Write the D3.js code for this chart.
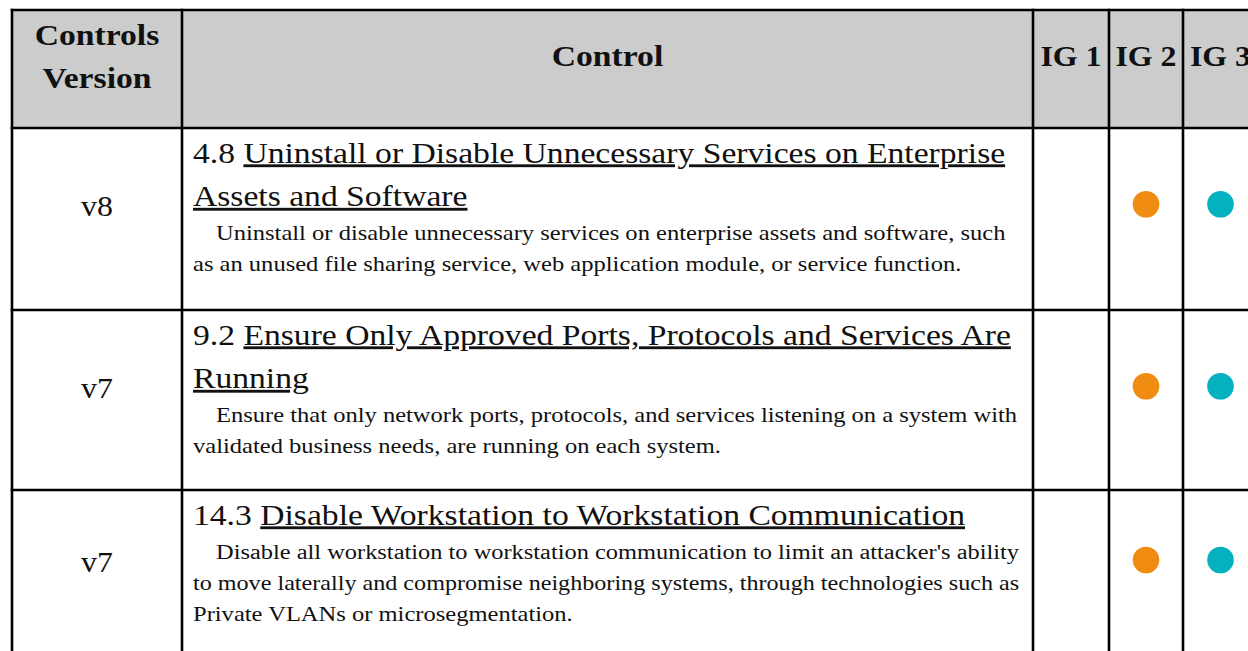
<!DOCTYPE html>
<html>
<head>
<meta charset="utf-8">
<script src="https://cdn.jsdelivr.net/npm/d3@7"></script>
<style>
  html, body { margin: 0; padding: 0; background: #ffffff; }
  svg { display: block; }
  text { font-family: "Liberation Serif", "Times New Roman", serif; fill: #111; }
</style>
</head>
<body>
<svg id="chart" width="1248" height="651"></svg>
<script>
// ---------- data ----------
const headers = ["Controls Version", "Control", "IG 1", "IG 2", "IG 3"];
const versions = ["v8", "v7", "v7"];
const controlIds = ["4.8", "9.2", "14.3"];
const titleLines = [
  ["Uninstall or Disable Unnecessary Services on Enterprise", "Assets and Software"],
  ["Ensure Only Approved Ports, Protocols and Services Are", "Running"],
  ["Disable Workstation to Workstation Communication"]
];
const descLines = [
  ["Uninstall or disable unnecessary services on enterprise assets and software, such",
   "as an unused file sharing service, web application module, or service function."],
  ["Ensure that only network ports, protocols, and services listening on a system with",
   "validated business needs, are running on each system."],
  ["Disable all workstation to workstation communication to limit an attacker's ability",
   "to move laterally and compromise neighboring systems, through technologies such as",
   "Private VLANs or microsegmentation."]
];
const ig1 = [false, false, false];
const ig2 = [true, true, true];
const ig3 = [true, true, true];
const igColors = ["#f18c12", "#f18c12", "#03b1bf"];

// ---------- layout ----------
const svg = d3.select("#chart");
const colEdges = [12, 182, 1033, 1109, 1183, 1258];
const rowTops = [10, 128, 310, 490, 680];
const K_HEAD = 1.16, K_IG = 1.1, K_LABEL = 1.1, K_TITLE = 1.18, K_DESC = 1.227;
const line = 2.6;

const colX = d3.scaleOrdinal().domain(d3.range(5)).range(colEdges.slice(0, 5));
const colW = i => colEdges[i + 1] - colEdges[i];
const colC = i => colX(i) + colW(i) / 2;
const rowY = d3.scaleOrdinal().domain(d3.range(4)).range(rowTops.slice(0, 4));

// header background
svg.append("rect")
  .attr("x", colEdges[0]).attr("y", rowTops[0])
  .attr("width", colEdges[5] - colEdges[0]).attr("height", rowTops[1] - rowTops[0])
  .attr("fill", "#cccccc");

function txt(g, x, y, k, anchor) {
  return g.append("text")
    .attr("transform", `translate(${x},${y}) scale(${k},1)`)
    .attr("text-anchor", anchor || "start");
}

// header texts
const hdr = svg.append("g");
const hdrLines = headers.map(h => h === "Controls Version" ? ["Controls", "Version"] : [h]);
hdrLines.forEach((ls, i) => {
  ls.forEach((s, j) => {
    const y = ls.length > 1 ? 45 + j * 43 : 66;
    txt(hdr, colC(i), y, i >= 2 ? K_IG : K_HEAD, "middle")
      .style("font-size", "29px").style("font-weight", "bold").text(s);
  });
});

// body rows
const maxRight = colEdges[2] - 14;
versions.forEach((v, r) => {
  const top = rowY(r + 1);
  const g = svg.append("g");
  const tx = colX(1) + 11;
  const t0 = top + 34.5;
  // title lines
  titleLines[r].forEach((s, j) => {
    const t = txt(g, tx, t0 + j * 43.5, K_TITLE).style("font-size", "28.5px");
    if (j === 0) t.append("tspan").text(controlIds[r] + " ");
    t.append("tspan").style("text-decoration", "underline").text(s);
  });
  const tEnd = t0 + (titleLines[r].length - 1) * 43.5;
  descLines[r].forEach((s, j) => {
    const x = tx + (j === 0 ? 23 : 0);
    const y = tEnd + 34 + j * 31;
    const t = txt(g, x, y, K_DESC).style("font-size", "20px").text(s);
    const w = t.node().getComputedTextLength();
    const k = Math.min(K_DESC, (maxRight - x) / w);
    t.attr("transform", `translate(${x},${y}) scale(${k},1)`);
  });
  const dEnd = tEnd + 34 + (descLines[r].length - 1) * 31;
  const mid = (t0 - 19 + dEnd) / 2 - 3;

  // version label
  txt(g, colC(0), mid + 12, K_LABEL, "middle").style("font-size", "29px").text(v);

  // IG markers
  [ig1, ig2, ig3].forEach((arr, c) => {
    if (arr[r]) {
      g.append("circle")
        .attr("cx", colC(c + 2)).attr("cy", mid)
        .attr("r", 13.3).attr("fill", igColors[c]);
    }
  });
});

// grid lines
const grid = svg.append("g").attr("stroke", "#000").attr("stroke-width", line);
rowTops.slice(0, 4).forEach(y => {
  grid.append("line").attr("x1", colEdges[0] - line / 2).attr("x2", colEdges[5])
    .attr("y1", y).attr("y2", y);
});
colEdges.forEach(x => {
  grid.append("line").attr("x1", x).attr("x2", x)
    .attr("y1", rowTops[0] - line / 2).attr("y2", rowTops[4]);
});
</script>
</body>
</html>
